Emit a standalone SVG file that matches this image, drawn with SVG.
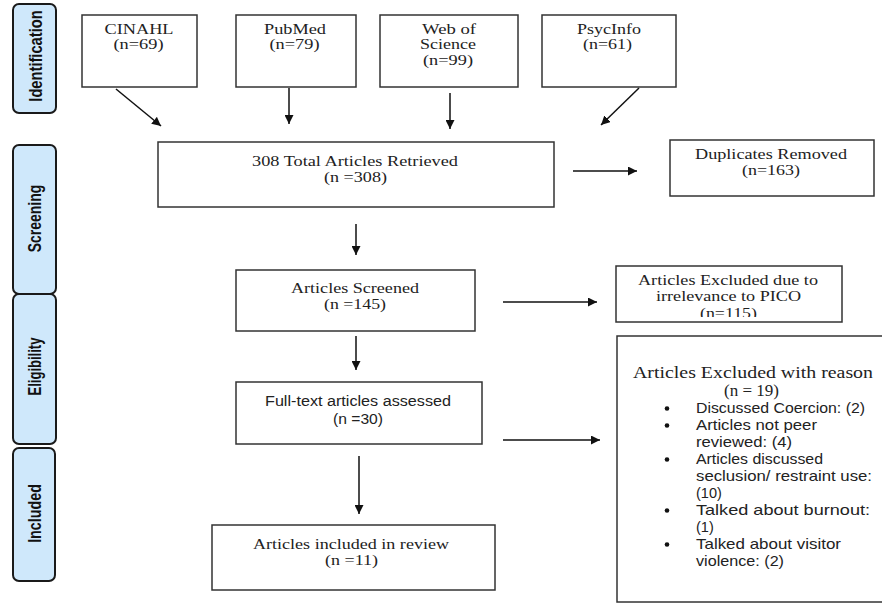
<svg xmlns="http://www.w3.org/2000/svg" width="882" height="604" viewBox="0 0 882 604">
<style>
.box{fill:#fff;stroke:#333;stroke-width:1.5}
.phase{fill:#cfe8fb;stroke:#1a1a1a;stroke-width:2}
.ph{font-family:"Liberation Sans",Arial,sans-serif;font-weight:bold;font-size:14px;fill:#111;text-anchor:middle}
.sf{font-family:"Liberation Serif","Times New Roman",serif;font-size:15px;fill:#222;text-anchor:middle}
.sft{font-family:"Liberation Serif","Times New Roman",serif;font-size:16.5px;fill:#222;text-anchor:middle}
.ss{font-family:"Liberation Sans",Arial,sans-serif;font-size:14px;fill:#222;text-anchor:middle}
.bl{font-family:"Liberation Sans",Arial,sans-serif;font-size:14.5px;fill:#222}
.arr{stroke:#111;stroke-width:1.5;fill:none;marker-end:url(#ah)}
</style>
<defs>
<marker id="ah" viewBox="0 0 10 10" refX="10" refY="5" markerWidth="9" markerHeight="9" markerUnits="userSpaceOnUse" orient="auto">
<path d="M0,0 L10,5 L0,10 z" fill="#111"/>
</marker>
<clipPath id="picoClip"><rect x="617" y="267" width="224" height="50"/></clipPath>
</defs>
<rect width="882" height="604" fill="#fff"/>

<g id="phase-identification">
<rect class="phase" x="13" y="4" width="43" height="109" rx="6"/>
<text class="ph" transform="translate(42,56) rotate(-90) scale(1.05,1.35)">Identification</text>
</g>
<g id="phase-screening">
<rect class="phase" x="13" y="145" width="43" height="149" rx="6"/>
<text class="ph" transform="translate(41,218.5) rotate(-90) scale(1,1.35)">Screening</text>
</g>
<g id="phase-eligibility">
<rect class="phase" x="13" y="294" width="43" height="150" rx="6"/>
<text class="ph" transform="translate(41,366.5) rotate(-90) scale(0.93,1.35)">Eligibility</text>
</g>
<g id="phase-included">
<rect class="phase" x="13" y="448" width="42" height="133" rx="6"/>
<text class="ph" transform="translate(41,513.5) rotate(-90) scale(1.02,1.35)">Included</text>
</g>

<g id="cinahl">
<rect class="box" x="82" y="15" width="115" height="72"/>
<text class="sf" x="139" y="33.5" textLength="69" lengthAdjust="spacingAndGlyphs">CINAHL</text>
<text class="sf" x="138.5" y="49" textLength="50" lengthAdjust="spacingAndGlyphs">(n=69)</text>
</g>
<g id="pubmed">
<rect class="box" x="236" y="15" width="120" height="72"/>
<text class="sf" x="295" y="33.5" textLength="62" lengthAdjust="spacingAndGlyphs">PubMed</text>
<text class="sf" x="294.5" y="49" textLength="50" lengthAdjust="spacingAndGlyphs">(n=79)</text>
</g>
<g id="webofscience">
<rect class="box" x="380" y="15" width="138" height="72"/>
<text class="sf" x="449" y="33.5" textLength="54" lengthAdjust="spacingAndGlyphs">Web of</text>
<text class="sf" x="448" y="49" textLength="56" lengthAdjust="spacingAndGlyphs">Science</text>
<text class="sf" x="448" y="64.5" textLength="50" lengthAdjust="spacingAndGlyphs">(n=99)</text>
</g>
<g id="psycinfo">
<rect class="box" x="542" y="15" width="134" height="72"/>
<text class="sf" x="609" y="33.5" textLength="64" lengthAdjust="spacingAndGlyphs">PsycInfo</text>
<text class="sf" x="607.5" y="49" textLength="49" lengthAdjust="spacingAndGlyphs">(n=61)</text>
</g>

<g id="total">
<rect class="box" x="158" y="142" width="396" height="65"/>
<text class="sf" x="355" y="166" textLength="206" lengthAdjust="spacingAndGlyphs">308 Total Articles Retrieved</text>
<text class="sf" x="355.5" y="182" textLength="63" lengthAdjust="spacingAndGlyphs">(n =308)</text>
</g>
<g id="duplicates">
<rect class="box" x="670" y="140" width="204" height="56"/>
<text class="sf" x="771" y="159" textLength="152" lengthAdjust="spacingAndGlyphs">Duplicates Removed</text>
<text class="sf" x="771" y="175" textLength="58" lengthAdjust="spacingAndGlyphs">(n=163)</text>
</g>
<g id="screened">
<rect class="box" x="236" y="270" width="239" height="61"/>
<text class="sf" x="355" y="293" textLength="128" lengthAdjust="spacingAndGlyphs">Articles Screened</text>
<text class="sf" x="355" y="309" textLength="62" lengthAdjust="spacingAndGlyphs">(n =145)</text>
</g>
<g id="excluded-pico">
<rect class="box" x="616" y="266" width="226" height="56"/>
<text class="sf" x="728" y="284.5" textLength="180" lengthAdjust="spacingAndGlyphs">Articles Excluded due to</text>
<text class="sf" x="728.5" y="300.5" textLength="145" lengthAdjust="spacingAndGlyphs">irrelevance to PICO</text>
<text class="sf" x="728.5" y="318" textLength="57" lengthAdjust="spacingAndGlyphs" clip-path="url(#picoClip)">(n=115)</text>
</g>
<g id="fulltext">
<rect class="box" x="236" y="382" width="246" height="62"/>
<text class="ss" x="358" y="406" textLength="186" lengthAdjust="spacingAndGlyphs">Full-text articles assessed</text>
<text class="ss" x="358" y="423.5" textLength="50" lengthAdjust="spacingAndGlyphs">(n =30)</text>
</g>
<g id="included">
<rect class="box" x="212" y="525" width="283" height="65"/>
<text class="sf" x="351" y="549" textLength="196" lengthAdjust="spacingAndGlyphs">Articles included in review</text>
<text class="sf" x="351.5" y="565" textLength="53" lengthAdjust="spacingAndGlyphs">(n =11)</text>
</g>
<g id="excluded-reason">
<rect class="box" x="617" y="336" width="300" height="266"/>
<text class="sft" x="753" y="378" textLength="240" lengthAdjust="spacingAndGlyphs">Articles Excluded with reason</text>
<text class="sft" x="751.5" y="396" textLength="55" lengthAdjust="spacingAndGlyphs">(n = 19)</text>
<g fill="#111">
<circle cx="667" cy="408.5" r="2.3"/>
<circle cx="667" cy="425.5" r="2.3"/>
<circle cx="667" cy="459.5" r="2.3"/>
<circle cx="667" cy="510.5" r="2.3"/>
<circle cx="667" cy="544.5" r="2.3"/>
</g>
<text class="bl" x="696" y="413" textLength="169" lengthAdjust="spacingAndGlyphs">Discussed Coercion: (2)</text>
<text class="bl" x="696" y="430" textLength="121" lengthAdjust="spacingAndGlyphs">Articles not peer</text>
<text class="bl" x="696" y="447" textLength="96" lengthAdjust="spacingAndGlyphs">reviewed: (4)</text>
<text class="bl" x="696" y="464" textLength="127" lengthAdjust="spacingAndGlyphs">Articles discussed</text>
<text class="bl" x="696" y="481" textLength="176" lengthAdjust="spacingAndGlyphs">seclusion/ restraint use:</text>
<text class="bl" x="696" y="498">(10)</text>
<text class="bl" x="696" y="515" textLength="174" lengthAdjust="spacingAndGlyphs">Talked about burnout:</text>
<text class="bl" x="696" y="532">(1)</text>
<text class="bl" x="696" y="549" textLength="145" lengthAdjust="spacingAndGlyphs">Talked about visitor</text>
<text class="bl" x="696" y="566" textLength="88" lengthAdjust="spacingAndGlyphs">violence: (2)</text>
</g>

<g id="connectors">
<line class="arr" x1="116" y1="89" x2="161" y2="126"/>
<line class="arr" x1="289" y1="88" x2="289" y2="124"/>
<line class="arr" x1="450" y1="93" x2="450" y2="129"/>
<line class="arr" x1="639" y1="88" x2="601" y2="125"/>
<line class="arr" x1="573" y1="171" x2="637" y2="171"/>
<line class="arr" x1="356" y1="224" x2="356" y2="255"/>
<line class="arr" x1="503" y1="302" x2="597" y2="302"/>
<line class="arr" x1="356" y1="336" x2="356" y2="370"/>
<line class="arr" x1="503" y1="440" x2="600" y2="440"/>
<line class="arr" x1="359" y1="456" x2="359" y2="514"/>
</g>
</svg>
